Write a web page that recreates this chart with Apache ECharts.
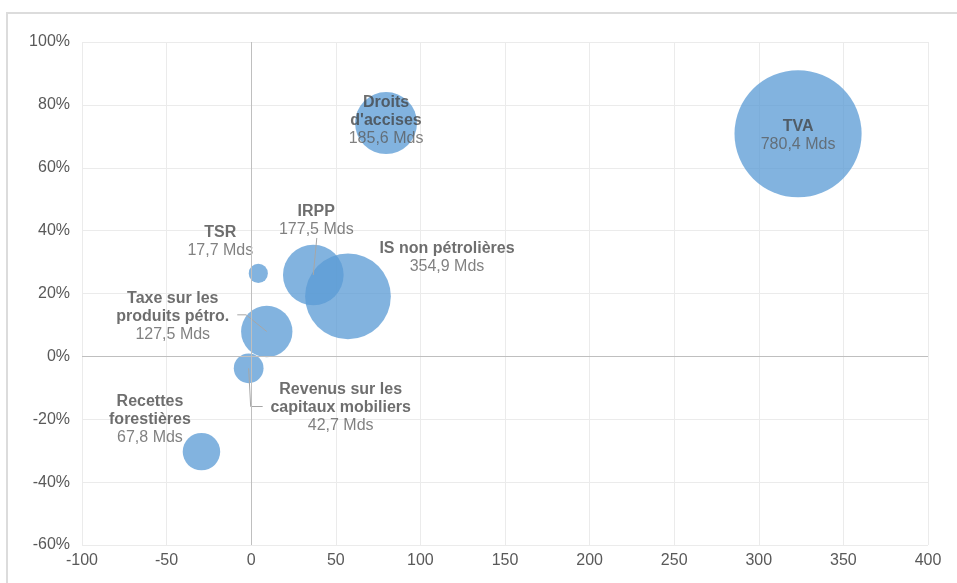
<!DOCTYPE html>
<html>
<head>
<meta charset="utf-8">
<script src="https://cdn.jsdelivr.net/npm/echarts@6/dist/echarts.min.js"></script>
<style>
  html, body { margin: 0; padding: 0; background: #ffffff; }
  #frame { position: absolute; left: 6px; top: 12px; width: 1000px; height: 1000px;
           border: 2px solid #dcdcdc; box-sizing: border-box; }
  #chart { position: absolute; left: 0; top: 0; width: 957px; height: 583px; }
</style>
</head>
<body>
<div id="frame"></div>
<div id="chart"></div>
<script>
// Recettes : croissance (axe X), variation en % (axe Y), montant en Mds (taille des bulles)
const names = ['TVA', "Droits d'accises", 'IRPP', 'IS non pétrolières', 'TSR',
               'Taxe sur les produits pétro.', 'Revenus sur les capitaux mobiliers', 'Recettes forestières'];
const labelNames = ['TVA', "Droits\nd'accises", 'IRPP', 'IS non pétrolières', 'TSR',
                    'Taxe sur les\nproduits pétro.', 'Revenus sur les\ncapitaux mobiliers', 'Recettes\nforestières'];
const xValues = [323.2, 79.7, 36.7, 57.2, 4.2, 9.2, -1.5, -29.4];
const yValues = [70.8, 74.2, 25.9, 19.1, 26.4, 7.9, -3.8, -30.3];
const amounts = [780.4, 185.6, 177.5, 354.9, 17.7, 127.5, 42.7, 67.8];

// Placement des étiquettes (décalage en pixels par rapport au centre de la bulle)
const labelOffsets = [[0, 2], [0, -3], [3, -54], [99, -39], [-38, -32], [-94, -15], [92, 39], [-51.5, -31.7]];
// Traits de rappel : points relatifs au centre de la bulle
const leaders = {
  2: [[3.5, -37], [0, 0]],
  5: [[-29.5, -16.7], [-20.7, -16.7], [0, 0]],
  6: [[14, 38.2], [2, 38.2], [0, 0]]
};

const fmtAmount = v => v.toFixed(1).replace('.', ',') + ' Mds';
const bubbleSize = v => 4.55 * Math.sqrt(v);

const bubbleData = names.map((n, i) => ({
  name: n,
  value: [xValues[i], yValues[i], amounts[i]],
  label: { offset: labelOffsets[i] }
}));

const chart = echarts.init(document.getElementById('chart'), null, { renderer: 'canvas' });

const fontFamily = 'Liberation Sans, Arial, sans-serif';
const axisLabelStyle = { color: '#595959', fontSize: 16, fontFamily: fontFamily };

chart.setOption({
  animation: false,
  backgroundColor: 'transparent',
  grid: { left: 82, right: 29, top: 42, bottom: 38, containLabel: false },
  xAxis: {
    type: 'value', min: -100, max: 400, interval: 50,
    axisLine: { show: false, onZero: false }, axisTick: { show: false },
    splitLine: { show: true, lineStyle: { color: '#ebebeb', width: 1 } },
    axisLabel: Object.assign({ margin: 8 }, axisLabelStyle)
  },
  yAxis: {
    type: 'value', min: -60, max: 100, interval: 20,
    axisLine: { show: false, onZero: false }, axisTick: { show: false },
    splitLine: { show: true, lineStyle: { color: '#ebebeb', width: 1 } },
    axisLabel: Object.assign({ margin: 12, formatter: v => v + '%' }, axisLabelStyle)
  },
  series: [
    {
      type: 'scatter',
      data: bubbleData,
      symbolSize: d => bubbleSize(d[2]),
      itemStyle: { color: '#5b9bd5', opacity: 0.76 },
      label: {
        show: true,
        position: 'inside',
        formatter: p => {
          const i = p.dataIndex;
          const lines = labelNames[i].split('\n').map(s => '{b|' + s + '}');
          return lines.join('\n') + '\n{v|' + fmtAmount(amounts[i]) + '}';
        },
        rich: {
          b: { fontFamily: fontFamily, fontSize: 16, fontWeight: 'bold', color: '#404040', lineHeight: 18, align: 'center' },
          v: { fontFamily: fontFamily, fontSize: 16, color: '#595959', lineHeight: 18, align: 'center' }
        }
      },
      markLine: {
        silent: true,
        symbol: 'none',
        label: { show: false },
        lineStyle: { color: '#bfbfbf', width: 1, type: 'solid' },
        data: [{ xAxis: 0 }, { yAxis: 0 }]
      },
      z: 3
    },
    {
      // traits de rappel des étiquettes déplacées
      type: 'custom',
      silent: true,
      z: 4,
      data: Object.keys(leaders).map(k => [xValues[k], yValues[k], +k]),
      renderItem: (params, api) => {
        const c = api.coord([api.value(0), api.value(1)]);
        const pts = leaders[api.value(2)].map(p => [c[0] + p[0], c[1] + p[1]]);
        return {
          type: 'polyline',
          shape: { points: pts },
          style: { stroke: '#a6a6a6', lineWidth: 1, fill: null }
        };
      }
    }
  ]
});
</script>
</body>
</html>
